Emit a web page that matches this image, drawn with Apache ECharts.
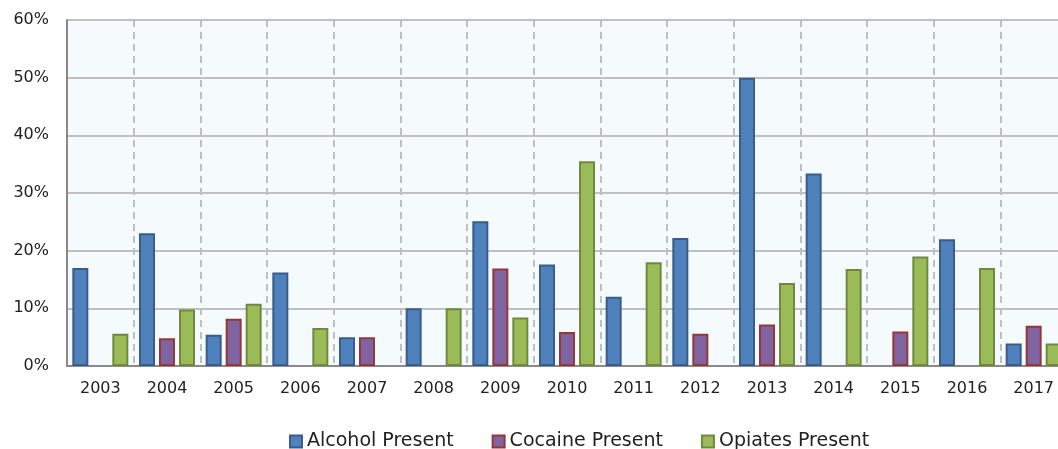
<!DOCTYPE html>
<html>
<head>
<meta charset="utf-8">
<style>
  html, body { margin: 0; padding: 0; background: #fff; }
  #chart { width: 1058px; height: 449px; }
</style>
<script src="https://cdn.jsdelivr.net/npm/echarts@6/dist/echarts.min.js"></script>
</head>
<body>
<div id="chart"></div>
<script>
var years = ['2003', '2004', '2005', '2006', '2007', '2008', '2009', '2010',
             '2011', '2012', '2013', '2014', '2015', '2016', '2017'];
// percent values (0 = no bar)
var alcohol = [17, 23, 5.4, 16.2, 5, 10, 25.1, 17.6, 12, 22.2, 50, 33.4, 0, 22, 3.9];
var cocaine = [0, 4.8, 8.2, 0, 5, 0, 16.9, 5.9, 0, 5.6, 7.2, 0, 6, 0, 7];
var opiates = [5.6, 9.8, 10.8, 6.6, 0, 10, 8.4, 35.5, 18, 0, 14.4, 16.8, 19, 17, 3.9];

var chart = echarts.init(document.getElementById('chart'));
var font = 'DejaVu Sans';

function bar(name, data, fill, border) {
    return {
        name: name,
        type: 'bar',
        data: data.map(function (v) { return v === 0 ? '-' : v; }),
        barWidth: 16,
        barGap: '25%',
        itemStyle: { color: fill, borderColor: border, borderWidth: 2 }
    };
}

var option = {
    animation: false,
    textStyle: { fontFamily: font },
    grid: {
        left: 67, top: 20, width: 1000, height: 346,
        show: true, backgroundColor: '#f5fbfc', borderWidth: 0,
        outerBoundsMode: 'none'
    },
    legend: {
        left: 284, top: 427,
        itemWidth: 12, itemHeight: 12, itemGap: 38,
        icon: 'rect',
        textStyle: { fontFamily: font, fontSize: 19, color: '#222' },
        data: ['Alcohol Present', 'Cocaine Present', 'Opiates Present']
    },
    xAxis: {
        type: 'category',
        data: years,
        axisLine: { lineStyle: { color: '#898989', width: 2 } },
        axisTick: { show: false },
        axisLabel: { fontFamily: font, fontSize: 16, color: '#222', margin: 15 },
        splitLine: { show: true, lineStyle: { color: '#c0c0c0', width: 2, type: [7, 5] } }
    },
    yAxis: {
        type: 'value',
        min: 0, max: 60, interval: 10,
        axisLine: { show: true, lineStyle: { color: '#898989', width: 2 } },
        axisTick: { show: false },
        axisLabel: { fontFamily: font, fontSize: 16, color: '#222', margin: 18, formatter: '{value}%' },
        splitLine: { lineStyle: { color: '#c0c0c0', width: 2 } }
    },
    series: [
        bar('Alcohol Present', alcohol, '#4f81bd', '#385d8a'),
        bar('Cocaine Present', cocaine, '#8064a2', '#953735'),
        bar('Opiates Present', opiates, '#9bbb59', '#71893f')
    ]
};

chart.setOption(option);
</script>
</body>
</html>
